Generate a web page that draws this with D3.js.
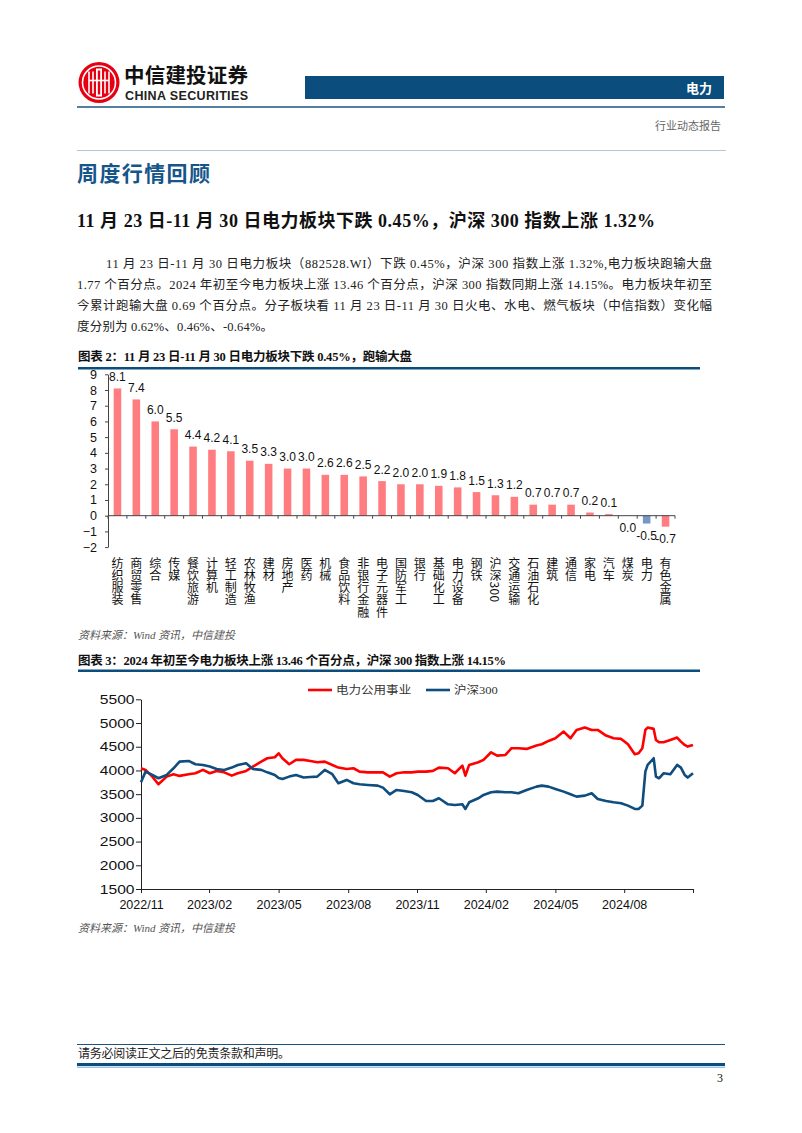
<!DOCTYPE html>
<html><head><meta charset="utf-8">
<script src="https://cdn.jsdelivr.net/npm/d3@7"></script>
<style>
html,body{margin:0;padding:0;background:#fff;}
svg{display:block;}
.vert{writing-mode:vertical-rl;text-orientation:mixed;}
</style></head><body>
<svg id="page" width="802" height="1133"></svg>
<script>
// ---------------- DATA ----------------
const categories = ["纺织服装","商贸零售","综合","传媒","餐饮旅游","计算机","轻工制造","农林牧渔","建材","房地产","医药","机械","食品饮料","非银行金融","电子元器件","国防军工","银行","基础化工","电力设备","钢铁","沪深300","交通运输","石油石化","建筑","通信","家电","汽车","煤炭","电力","有色金属"];
const changes = [8.1,7.4,6.0,5.5,4.4,4.2,4.1,3.5,3.3,3.0,3.0,2.6,2.6,2.5,2.2,2.0,2.0,1.9,1.8,1.5,1.3,1.2,0.7,0.7,0.7,0.2,0.1,0.0,-0.5,-0.7];
const highlightCategory = "电力";
const barTicks = [-2,-1,0,1,2,3,4,5,6,7,8,9];

const dates = ["2022-11-30","2022-12-06","2022-12-15","2022-12-23","2023-01-03","2023-01-12","2023-01-20","2023-02-01","2023-02-10","2023-02-20","2023-03-01","2023-03-10","2023-03-20","2023-03-30","2023-04-07","2023-04-18","2023-04-27","2023-05-08","2023-05-16","2023-05-26","2023-05-31","2023-06-05","2023-06-14","2023-06-23","2023-07-03","2023-07-12","2023-07-21","2023-07-31","2023-08-10","2023-08-18","2023-08-29","2023-09-07","2023-09-15","2023-09-26","2023-10-09","2023-10-16","2023-10-25","2023-11-03","2023-11-13","2023-11-23","2023-12-01","2023-12-12","2023-12-21","2023-12-29","2024-01-10","2024-01-19","2024-01-29","2024-02-02","2024-02-07","2024-02-19","2024-02-26","2024-03-07","2024-03-15","2024-03-26","2024-04-03","2024-04-12","2024-04-23","2024-05-06","2024-05-13","2024-05-22","2024-05-31","2024-06-11","2024-06-20","2024-06-28","2024-07-09","2024-07-18","2024-07-26","2024-08-06","2024-08-16","2024-08-26","2024-09-04","2024-09-13","2024-09-18","2024-09-23","2024-09-27","2024-09-30","2024-10-08","2024-10-11","2024-10-15","2024-10-21","2024-10-30","2024-11-08","2024-11-13","2024-11-18","2024-11-22","2024-11-29"];
const utilities = [4046,4011,3870,3708,3870,3920,3885,3920,3940,4011,3940,3990,3960,3890,3940,3990,4081,4186,4257,4278,4362,4257,4130,4222,4222,4200,4172,4186,4116,4060,4030,4046,3975,3960,3960,3960,3870,3940,3960,3960,3975,3975,3990,4060,4046,3940,4102,3890,4116,4172,4222,4383,4313,4327,4468,4468,4454,4524,4552,4622,4679,4819,4679,4854,4904,4854,4854,4735,4679,4665,4552,4341,4362,4468,4854,4904,4876,4643,4594,4594,4643,4693,4608,4538,4503,4538];
const csi300 = [3750,3975,3905,3835,3905,4046,4186,4200,4130,4116,4081,4030,4011,4060,4116,4151,4030,4011,3960,3905,3840,3820,3870,3905,3850,3860,3870,4011,3920,3729,3800,3729,3708,3694,3680,3638,3497,3589,3568,3540,3483,3356,3356,3413,3286,3272,3286,3188,3328,3413,3483,3540,3553,3540,3540,3518,3589,3659,3680,3659,3610,3553,3497,3448,3469,3518,3398,3356,3328,3307,3258,3188,3188,3258,3975,4116,4257,3870,3835,3940,3920,4116,4060,3905,3850,3940];
const seriesNames = ["电力公用事业","沪深300"];
const lineTicks = [1500,2000,2500,3000,3500,4000,4500,5000,5500];
const dateTicks = ["2022-11-30","2023-02-28","2023-05-31","2023-08-31","2023-11-30","2024-02-29","2024-05-31","2024-08-30","2024-11-29"];
const dateTickLabels = ["2022/11","2023/02","2023/05","2023/08","2023/11","2024/02","2024/05","2024/08",""];

// ---------------- STYLE ----------------
const SERIF = '"Liberation Serif","Noto Sans CJK SC",serif';
const SANS = '"Liberation Sans","Noto Sans CJK SC",sans-serif';
const CJK = '"Noto Sans CJK SC",sans-serif';
const NAVY = "#0b4e7d";

const svg = d3.select("#page");
svg.append("rect").attr("width",802).attr("height",1133).attr("fill","#fff");

function txt(g, s, x, y, o) {
  const t = g.append("text").attr("x", x).attr("y", y).text(s)
    .attr("font-family", o.ff || SERIF).attr("font-size", o.fs || 12)
    .attr("fill", o.fill || "#111");
  if (o.fw) t.attr("font-weight", o.fw);
  if (o.anchor) t.attr("text-anchor", o.anchor);
  if (o.italic) t.attr("font-style", "italic");
  if (o.len) t.attr("textLength", o.len).attr("lengthAdjust", "spacing");
  return t;
}

// ---------------- HEADER ----------------
const hdr = svg.append("g");
const logo = hdr.append("g").attr("transform","translate(99,82.5)");
logo.append("circle").attr("r",20.5).attr("fill","#e60012");
logo.append("circle").attr("r",16.5).attr("fill","none").attr("stroke","#fff").attr("stroke-width",1.6);
[-10,-6,6,10].forEach(dx => logo.append("line").attr("x1",dx).attr("x2",dx).attr("y1",-11).attr("y2",11).attr("stroke","#fff").attr("stroke-width",1.6));
logo.append("rect").attr("x",-3).attr("y",-14).attr("width",6).attr("height",28).attr("fill","#fff");
logo.append("rect").attr("x",-1.2).attr("y",-12).attr("width",2.4).attr("height",24).attr("fill","#e60012");
logo.append("line").attr("x1",-10).attr("x2",10).attr("y1",-2).attr("y2",-2).attr("stroke","#fff").attr("stroke-width",1.6);
txt(hdr,"中信建投证券",124,82.5,{ff:CJK,fs:20.5,fw:"bold",fill:"#111",len:124});
txt(hdr,"CHINA SECURITIES",125,99.5,{ff:SANS,fs:12.5,fw:"bold",fill:"#222",len:123});
hdr.append("rect").attr("x",305).attr("y",76).attr("width",419).attr("height",23).attr("fill",NAVY);
txt(hdr,"电力",712,92.5,{ff:CJK,fs:13,fw:"bold",fill:"#fff",anchor:"end"});
hdr.append("line").attr("x1",77).attr("x2",725).attr("y1",107).attr("y2",107).attr("stroke","#1c5480").attr("stroke-width",1.5);
txt(hdr,"行业动态报告",721,130,{ff:CJK,fs:11,fill:"#666",anchor:"end"});
hdr.append("line").attr("x1",77).attr("x2",726).attr("y1",150.5).attr("y2",150.5).attr("stroke","#b7c4d2").attr("stroke-width",1);

// ---------------- TEXT BODY ----------------
const body = svg.append("g");
txt(body,"周度行情回顾",77,181,{ff:CJK,fs:21,fw:"bold",fill:"#15558a",len:133});
txt(body,"11 月 23 日-11 月 30 日电力板块下跌 0.45%，沪深 300 指数上涨 1.32%",77,227,{fs:18,fw:"bold",fill:"#111",len:578});
const para = [
  ["11 月 23 日-11 月 30 日电力板块（882528.WI）下跌 0.45%，沪深 300 指数上涨 1.32%,电力板块跑输大盘",106,606],
  ["1.77 个百分点。2024 年初至今电力板块上涨 13.46 个百分点，沪深 300 指数同期上涨 14.15%。电力板块年初至",77,635],
  ["今累计跑输大盘 0.69 个百分点。分子板块看 11 月 23 日-11 月 30 日火电、水电、燃气板块（中信指数）变化幅",77,635],
  ["度分别为 0.62%、0.46%、-0.64%。",77,196]
];
para.forEach((p,i) => txt(body,p[0],p[1],267.5+i*21,{fs:12.5,fill:"#222",len:p[2]}));

// ---------------- FIGURE 2 (bars) ----------------
const f2 = svg.append("g");
txt(f2,"图表 2：11 月 23 日-11 月 30 日电力板块下跌 0.45%，跑输大盘",78,361,{fs:12.5,fw:"bold",fill:"#111",len:334});
f2.append("line").attr("x1",78).attr("x2",700).attr("y1",368.3).attr("y2",368.3).attr("stroke",NAVY).attr("stroke-width",2.5);

const xb = d3.scaleBand().domain(categories).range([108,675]).paddingInner(0.6).paddingOuter(0.3);
const yb = d3.scaleLinear().domain([-2,9]).range([547.1,374.3]);
const step = xb.step();

f2.selectAll("rect.bar").data(categories).join("rect").attr("class","bar")
  .attr("x", d => xb(d)).attr("width", xb.bandwidth())
  .attr("y", (d,i) => yb(Math.max(0,changes[i])))
  .attr("height", (d,i) => Math.abs(yb(changes[i]) - yb(0)))
  .attr("fill", d => d === highlightCategory ? "#7398c6" : "#ff7c80");

const yAxB = f2.append("g").attr("transform","translate(108,0)")
  .call(d3.axisLeft(yb).tickValues(barTicks).tickFormat(d3.format("d")).tickSize(3).tickSizeOuter(0).tickPadding(8));
yAxB.selectAll("text").attr("font-family",SANS).attr("font-size",12.5).attr("fill","#111");
yAxB.selectAll("path,line").attr("stroke","#444");

const zeroY = yb(0);
const xAxB = f2.append("g");
xAxB.append("line").attr("x1",xb.range()[0]).attr("x2",xb.range()[1]).attr("y1",zeroY).attr("y2",zeroY).attr("stroke","#444");
const bounds = categories.map(c => xb(c) - (step - xb.bandwidth())/2).concat([xb.range()[1]]);
xAxB.selectAll("line.tk").data(bounds).join("line").attr("class","tk")
  .attr("x1",d=>d).attr("x2",d=>d).attr("y1",zeroY).attr("y2",zeroY+3).attr("stroke","#444");

// value labels
f2.selectAll("text.val").data(categories).join("text").attr("class","val")
  .attr("x", d => xb(d) + xb.bandwidth()/2)
  .attr("y", (d,i) => changes[i] > 0 ? yb(changes[i]) - 7.5 : yb(Math.min(0,changes[i])) + 16)
  .attr("text-anchor","middle").attr("font-family",SANS).attr("font-size",12).attr("fill","#111")
  .text((d,i) => d3.format(".1f")(changes[i]).replace("−","-"));

// category labels (vertical writing, one text per category)
f2.selectAll("text.cat").data(categories).join("text").attr("class","cat vert")
  .attr("x", d => xb(d) + xb.bandwidth()/2).attr("y", 557)
  .attr("font-family",CJK).attr("font-size",12).attr("letter-spacing",0.3).attr("fill","#111")
  .text(d => d);

txt(f2,"资料来源：Wind 资讯，中信建投",78,639,{fs:11,fill:"#555",italic:true,len:157});

// ---------------- FIGURE 3 (lines) ----------------
const f3 = svg.append("g");
txt(f3,"图表 3：2024 年初至今电力板块上涨 13.46 个百分点，沪深 300 指数上涨 14.15%",78,665,{fs:12.5,fw:"bold",fill:"#111",len:428});
f3.append("line").attr("x1",78).attr("x2",700).attr("y1",670.7).attr("y2",670.7).attr("stroke",NAVY).attr("stroke-width",2.5);

const parse = d3.timeParse("%Y-%m-%d");
const xl = d3.scaleTime().domain([parse(dates[0]), parse(dates[dates.length-1])]).range([141,693]);
const yl = d3.scaleLinear().domain([1500,5500]).range([889,699.3]);

const yAxL = f3.append("g").attr("transform","translate(141,0)")
  .call(d3.axisLeft(yl).tickValues(lineTicks).tickFormat(d3.format("d")).tickSize(5).tickSizeOuter(0));
yAxL.selectAll("text").attr("x",0).attr("transform","translate(-6.5,0) scale(1.25,1)")
  .attr("font-family",SANS).attr("font-size",12.5).attr("fill","#111");
yAxL.selectAll("path,line").attr("stroke","#222");

const xAxL = f3.append("g").attr("transform","translate(0,889)")
  .call(d3.axisBottom(xl).tickValues(dateTicks.map(parse)).tickFormat((d,i)=>dateTickLabels[i]).tickSize(4).tickPadding(7).tickSizeOuter(0));
xAxL.selectAll("text").attr("font-family",SANS).attr("font-size",12.5).attr("fill","#111");
xAxL.selectAll("path,line").attr("stroke","#222");

const colors = ["#ff0000","#0e4d7e"];
[utilities, csi300].forEach((vals,k) => {
  const line = d3.line().x((d,i)=>xl(parse(dates[i]))).y(d=>yl(d));
  f3.append("path").datum(vals).attr("d",line).attr("fill","none")
    .attr("stroke",colors[k]).attr("stroke-width",2.6).attr("stroke-linejoin","round");
});

// legend
const legX = [308, 426];
seriesNames.forEach((n,k) => {
  f3.append("line").attr("x1",legX[k]).attr("x2",legX[k]+24).attr("y1",690).attr("y2",690)
    .attr("stroke",colors[k]).attr("stroke-width",2.6);
  f3.append("text").attr("transform",`translate(${legX[k]+28},694) scale(1.14,1)`)
    .attr("font-family",SERIF).attr("font-size",11).attr("fill","#333").text(n);
});
txt(f3,"资料来源：Wind 资讯，中信建投",78,932,{fs:11,fill:"#555",italic:true,len:157});

// ---------------- FOOTER ----------------
const ft = svg.append("g");
ft.append("line").attr("x1",77).attr("x2",725).attr("y1",1044.5).attr("y2",1044.5).attr("stroke","#1c5480").attr("stroke-width",1.2);
txt(ft,"请务必阅读正文之后的免责条款和声明。",78,1057.5,{fs:12,fill:"#222",len:212});
ft.append("line").attr("x1",77).attr("x2",725).attr("y1",1064.5).attr("y2",1064.5).attr("stroke",NAVY).attr("stroke-width",3);
ft.append("line").attr("x1",77).attr("x2",725).attr("y1",1067.2).attr("y2",1067.2).attr("stroke","#9cc3e6").attr("stroke-width",1.4);
txt(ft,"3",720,1082,{fs:12,fill:"#111",anchor:"middle"});
</script>
</body></html>
